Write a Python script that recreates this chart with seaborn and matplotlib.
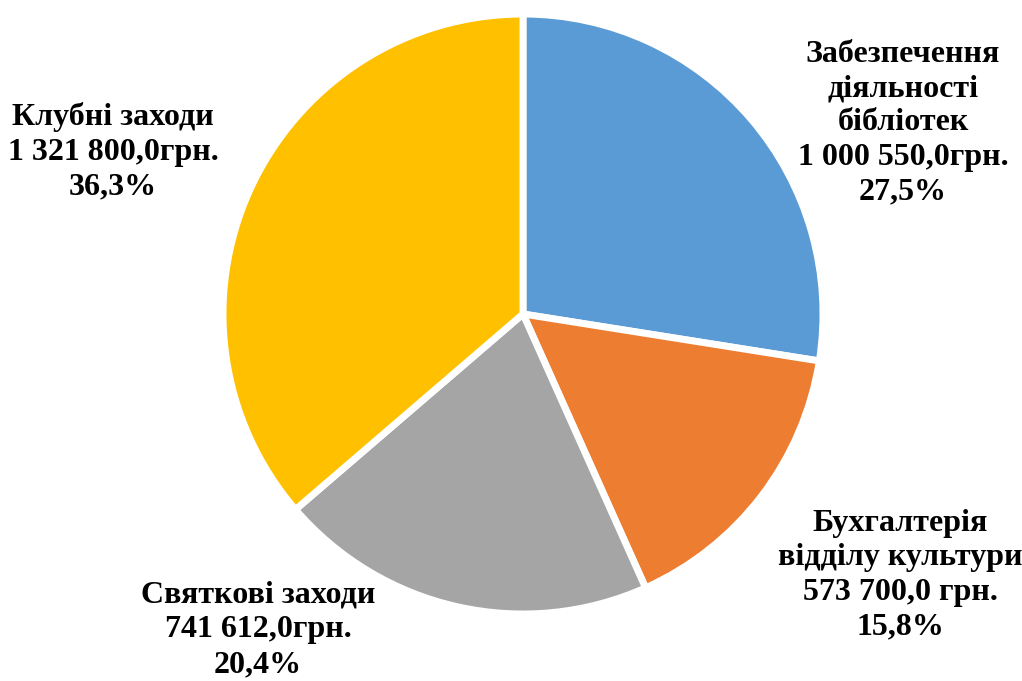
import matplotlib
matplotlib.use("Agg")
import matplotlib.pyplot as plt
import seaborn as sns

# data
categories = ["Забезпечення\nдіяльності\nбібліотек", "Бухгалтерія\nвідділу культури",
              "Святкові заходи", "Клубні заходи"]
amounts = ["1 000 550,0грн.", "573 700,0 грн.", "741 612,0грн.", "1 321 800,0грн."]
shares = [27.5, 15.8, 20.4, 36.3]
colors = ["#5B9BD5", "#ED7D31", "#A5A5A5", "#FFC000"]

# label anchor points (pixel coords, top-left origin)
label_pos = [(903, 123), (900, 575), (258, 630), (113, 152)]

sns.set_theme(style="white")
plt.rcParams["font.family"] = ["Liberation Serif", "DejaVu Serif"]

W, H = 1022, 681
fig = plt.figure(figsize=(W / 100, H / 100), dpi=100)
cx, cy, r = 523, 314, 300
ax = fig.add_axes([(cx - r) / W, 1 - (cy + r) / H, 2 * r / W, 2 * r / H])

ax.pie(shares, colors=colors, startangle=90, counterclock=False,
       wedgeprops=dict(edgecolor="white", linewidth=5))
ax.set_xlim(-1.0, 1.0)
ax.set_ylim(-1.0, 1.0)
ax.set_aspect("equal")
ax.axis("off")

for cat, amt, pct, (px, py) in zip(categories, amounts, shares, label_pos):
    pct_txt = str(pct).replace(".", ",")
    fig.text(px / W, 1 - py / H, f"{cat}\n{amt}\n{pct_txt}%", ha="center", va="center",
             fontsize=23, fontweight="bold", linespacing=1.25, color="black")

fig.savefig("out.png", dpi=100)
